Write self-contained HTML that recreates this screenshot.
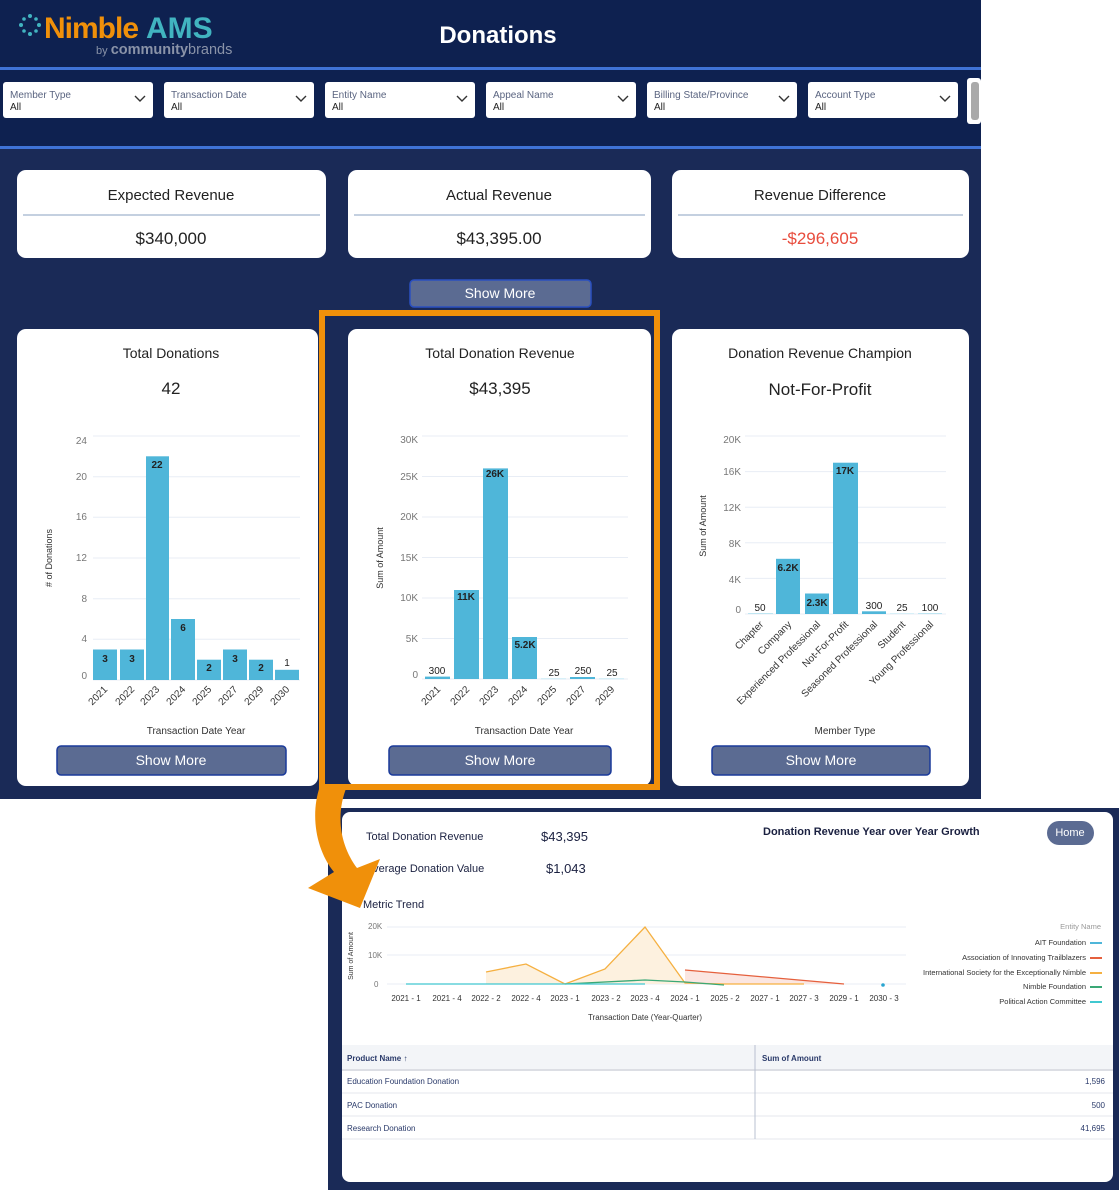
<!DOCTYPE html>
<html><head><meta charset="utf-8"><style>
html,body{margin:0;padding:0;background:#fff}
svg{display:block}
text{font-family:"Liberation Sans",sans-serif}
</style></head><body>
<svg width="1119" height="1190" viewBox="0 0 1119 1190" xmlns="http://www.w3.org/2000/svg">
<rect width="1119" height="1190" fill="#fff"/>
<!-- top dashboard -->
<rect x="0" y="0" width="981" height="799" fill="#1a2a57"/>
<rect x="0" y="0" width="981" height="148" fill="#0e2150"/>
<rect x="0" y="67" width="981" height="3" fill="#3f73d6"/>
<rect x="0" y="146" width="981" height="3" fill="#3f73d6"/>
<g fill="#41b4c0"><circle cx="30" cy="16" r="2"/><circle cx="30" cy="34" r="2"/><circle cx="21" cy="25" r="2"/><circle cx="39" cy="25" r="2"/><circle cx="24" cy="19" r="1.8"/><circle cx="36" cy="19" r="1.8"/><circle cx="24" cy="31" r="1.8"/><circle cx="36" cy="31" r="1.8"/></g>
<text x="44" y="38" font-size="30" font-weight="bold" fill="#f0900a" letter-spacing="-1">Nimble</text>
<text x="146" y="38" font-size="30" font-weight="bold" fill="#41b4c0">AMS</text>
<text x="96" y="54" font-size="11" fill="#8a93a8">by <tspan font-weight="bold" font-size="14.5">community</tspan><tspan font-size="14.5">brands</tspan></text>
<text x="498" y="43" font-size="24" font-weight="bold" fill="#fff" text-anchor="middle">Donations</text>
<!-- filters -->
<g font-size="10">
<g transform="translate(3,82)"><rect width="150" height="36" rx="3" fill="#fff"/><text x="7" y="16" fill="#5a6480">Member Type</text><text x="7" y="28" fill="#222">All</text><path d="M132 14l5 5 5-5" stroke="#333" fill="none" stroke-width="1.4"/></g>
<g transform="translate(164,82)"><rect width="150" height="36" rx="3" fill="#fff"/><text x="7" y="16" fill="#5a6480">Transaction Date</text><text x="7" y="28" fill="#222">All</text><path d="M132 14l5 5 5-5" stroke="#333" fill="none" stroke-width="1.4"/></g>
<g transform="translate(325,82)"><rect width="150" height="36" rx="3" fill="#fff"/><text x="7" y="16" fill="#5a6480">Entity Name</text><text x="7" y="28" fill="#222">All</text><path d="M132 14l5 5 5-5" stroke="#333" fill="none" stroke-width="1.4"/></g>
<g transform="translate(486,82)"><rect width="150" height="36" rx="3" fill="#fff"/><text x="7" y="16" fill="#5a6480">Appeal Name</text><text x="7" y="28" fill="#222">All</text><path d="M132 14l5 5 5-5" stroke="#333" fill="none" stroke-width="1.4"/></g>
<g transform="translate(647,82)"><rect width="150" height="36" rx="3" fill="#fff"/><text x="7" y="16" fill="#5a6480">Billing State/Province</text><text x="7" y="28" fill="#222">All</text><path d="M132 14l5 5 5-5" stroke="#333" fill="none" stroke-width="1.4"/></g>
<g transform="translate(808,82)"><rect width="150" height="36" rx="3" fill="#fff"/><text x="7" y="16" fill="#5a6480">Account Type</text><text x="7" y="28" fill="#222">All</text><path d="M132 14l5 5 5-5" stroke="#333" fill="none" stroke-width="1.4"/></g>
<rect x="967" y="78" width="14" height="46" rx="3" fill="#fff"/><rect x="971" y="82" width="8" height="38" rx="3" fill="#aaa"/>
</g>
<!-- KPI cards -->
<g font-size="15" fill="#222" text-anchor="middle">
<rect x="17" y="170" width="309" height="88" rx="9" fill="#fff"/><text x="171" y="200">Expected Revenue</text><line x1="23" y1="215" x2="320" y2="215" stroke="#8aa0c0"/><text x="171" y="244" font-size="17">$340,000</text>
<rect x="348" y="170" width="303" height="88" rx="9" fill="#fff"/><text x="499" y="200">Actual Revenue</text><line x1="354" y1="215" x2="645" y2="215" stroke="#8aa0c0"/><text x="499" y="244" font-size="17">$43,395.00</text>
<rect x="672" y="170" width="297" height="88" rx="9" fill="#fff"/><text x="820" y="200">Revenue Difference</text><line x1="678" y1="215" x2="963" y2="215" stroke="#8aa0c0"/><text x="820" y="244" font-size="17" fill="#e84c3d">-$296,605</text>
</g>
<rect x="410" y="280" width="181" height="27" rx="4" fill="#5b6b92" stroke="#2a50c0" stroke-width="1.5"/>
<text x="500" y="298" font-size="14" fill="#fff" text-anchor="middle">Show More</text>
<!-- chart cards -->
<rect x="17" y="329" width="301" height="457" rx="9" fill="#fff"/>
<rect x="348" y="329" width="303" height="457" rx="9" fill="#fff"/>
<rect x="672" y="329" width="297" height="457" rx="9" fill="#fff"/>
<g text-anchor="middle" fill="#222">
<text x="171" y="358" font-size="14">Total Donations</text><text x="171" y="394" font-size="17">42</text>
<text x="500" y="358" font-size="14">Total Donation Revenue</text><text x="500" y="394" font-size="17">$43,395</text>
<text x="820" y="358" font-size="14">Donation Revenue Champion</text><text x="820" y="395" font-size="17">Not-For-Profit</text>
</g>
<!-- chart 1 -->
<g font-size="10" fill="#777" text-anchor="end">
<g stroke="#e8edf5"><line x1="93" x2="300" y1="680" y2="680"/><line x1="93" x2="300" y1="639.3" y2="639.3"/><line x1="93" x2="300" y1="598.7" y2="598.7"/><line x1="93" x2="300" y1="558" y2="558"/><line x1="93" x2="300" y1="517.3" y2="517.3"/><line x1="93" x2="300" y1="476.7" y2="476.7"/><line x1="93" x2="300" y1="436" y2="436"/></g>
<text x="87" y="679">0</text><text x="87" y="642">4</text><text x="87" y="602">8</text><text x="87" y="561">12</text><text x="87" y="520">16</text><text x="87" y="480">20</text><text x="87" y="444">24</text>
</g>
<g fill="#4fb6d9">
<rect x="93" y="649.5" width="24" height="30.5"/><rect x="120" y="649.5" width="24" height="30.5"/><rect x="146" y="456.3" width="23" height="223.7"/><rect x="171" y="619" width="24" height="61"/><rect x="197" y="659.7" width="24" height="20.3"/><rect x="223" y="649.5" width="24" height="30.5"/><rect x="249" y="659.7" width="24" height="20.3"/><rect x="275" y="669.8" width="24" height="10.2"/>
</g>
<g font-size="10" fill="#222" text-anchor="middle" font-weight="bold">
<text x="105" y="662">3</text><text x="132" y="662">3</text><text x="157" y="468">22</text><text x="183" y="631">6</text><text x="209" y="671">2</text><text x="235" y="662">3</text><text x="261" y="671">2</text><text x="287" y="666" font-weight="normal">1</text>
</g>
<g font-size="10" fill="#333" text-anchor="end">
<text transform="translate(108,690) rotate(-45)">2021</text><text transform="translate(135,690) rotate(-45)">2022</text><text transform="translate(160,690) rotate(-45)">2023</text><text transform="translate(186,690) rotate(-45)">2024</text><text transform="translate(212,690) rotate(-45)">2025</text><text transform="translate(238,690) rotate(-45)">2027</text><text transform="translate(264,690) rotate(-45)">2029</text><text transform="translate(290,690) rotate(-45)">2030</text>
</g>
<text x="196" y="734" font-size="10" fill="#333" text-anchor="middle">Transaction Date Year</text>
<text transform="translate(52,558) rotate(-90)" font-size="9" fill="#333" text-anchor="middle"># of Donations</text>
<!-- chart 2 -->
<g font-size="10" fill="#777" text-anchor="end">
<g stroke="#e8edf5"><line x1="422" x2="628" y1="679" y2="679"/><line x1="422" x2="628" y1="638.5" y2="638.5"/><line x1="422" x2="628" y1="598" y2="598"/><line x1="422" x2="628" y1="557.5" y2="557.5"/><line x1="422" x2="628" y1="517" y2="517"/><line x1="422" x2="628" y1="476.5" y2="476.5"/><line x1="422" x2="628" y1="436" y2="436"/></g>
<text x="418" y="678">0</text><text x="418" y="642">5K</text><text x="418" y="601">10K</text><text x="418" y="561">15K</text><text x="418" y="520">20K</text><text x="418" y="480">25K</text><text x="418" y="443">30K</text>
</g>
<g fill="#4fb6d9">
<rect x="425" y="676.6" width="25" height="2.4"/><rect x="454" y="590" width="25" height="89"/><rect x="483" y="468.4" width="25" height="210.6"/><rect x="512" y="637" width="25" height="42"/><rect x="541" y="678.4" width="25" height="0.8" fill="#bfe6f2"/><rect x="570" y="677" width="25" height="2"/><rect x="599" y="678.4" width="25" height="0.8" fill="#bfe6f2"/>
</g>
<g font-size="10" fill="#222" text-anchor="middle">
<text x="437" y="674">300</text><text x="466" y="600" font-weight="bold">11K</text><text x="495" y="477" font-weight="bold">26K</text><text x="525" y="648" font-weight="bold">5.2K</text><text x="554" y="676">25</text><text x="583" y="674">250</text><text x="612" y="676">25</text>
</g>
<g font-size="10" fill="#333" text-anchor="end">
<text transform="translate(441,690) rotate(-45)">2021</text><text transform="translate(470,690) rotate(-45)">2022</text><text transform="translate(499,690) rotate(-45)">2023</text><text transform="translate(528,690) rotate(-45)">2024</text><text transform="translate(557,690) rotate(-45)">2025</text><text transform="translate(586,690) rotate(-45)">2027</text><text transform="translate(615,690) rotate(-45)">2029</text>
</g>
<text x="524" y="734" font-size="10" fill="#333" text-anchor="middle">Transaction Date Year</text>
<text transform="translate(383,558) rotate(-90)" font-size="9" fill="#333" text-anchor="middle">Sum of Amount</text>
<!-- chart 3 -->
<g font-size="10" fill="#777" text-anchor="end">
<g stroke="#e8edf5"><line x1="745" x2="946" y1="614" y2="614"/><line x1="745" x2="946" y1="578.4" y2="578.4"/><line x1="745" x2="946" y1="542.8" y2="542.8"/><line x1="745" x2="946" y1="507.2" y2="507.2"/><line x1="745" x2="946" y1="471.6" y2="471.6"/><line x1="745" x2="946" y1="436" y2="436"/></g>
<text x="741" y="613">0</text><text x="741" y="583">4K</text><text x="741" y="547">8K</text><text x="741" y="511">12K</text><text x="741" y="475">16K</text><text x="741" y="443">20K</text>
</g>
<g fill="#4fb6d9">
<rect x="748" y="613" width="25" height="1" fill="#bfe6f2"/><rect x="776" y="558.8" width="24" height="55.2"/><rect x="805" y="593.5" width="24" height="20.5"/><rect x="833" y="462.7" width="25" height="151.3"/><rect x="862" y="611.3" width="24" height="2.7"/><rect x="890" y="613.4" width="24" height="0.6" fill="#bfe6f2"/><rect x="918" y="613" width="24" height="1" fill="#bfe6f2"/>
</g>
<g font-size="10" fill="#222" text-anchor="middle">
<text x="760" y="611">50</text><text x="788" y="571" font-weight="bold">6.2K</text><text x="817" y="606" font-weight="bold">2.3K</text><text x="845" y="474" font-weight="bold">17K</text><text x="874" y="609">300</text><text x="902" y="611">25</text><text x="930" y="611">100</text>
</g>
<g font-size="10" fill="#333" text-anchor="end">
<text transform="translate(764,625) rotate(-45)">Chapter</text><text transform="translate(792,625) rotate(-45)">Company</text><text transform="translate(821,625) rotate(-45)">Experienced Professional</text><text transform="translate(849,625) rotate(-45)">Not-For-Profit</text><text transform="translate(878,625) rotate(-45)">Seasoned Professional</text><text transform="translate(906,625) rotate(-45)">Student</text><text transform="translate(934,625) rotate(-45)">Young Professional</text>
</g>
<text x="845" y="734" font-size="10" fill="#333" text-anchor="middle">Member Type</text>
<text transform="translate(706,526) rotate(-90)" font-size="9" fill="#333" text-anchor="middle">Sum of Amount</text>
<!-- show more buttons -->
<g font-size="14" fill="#fff" text-anchor="middle">
<rect x="57" y="746" width="229" height="29" rx="4" fill="#5b6b92" stroke="#1a3a9a" stroke-width="1.5"/><text x="171" y="765">Show More</text>
<rect x="389" y="746" width="222" height="29" rx="4" fill="#5b6b92" stroke="#1a3a9a" stroke-width="1.5"/><text x="500" y="765">Show More</text>
<rect x="712" y="746" width="218" height="29" rx="4" fill="#5b6b92" stroke="#1a3a9a" stroke-width="1.5"/><text x="821" y="765">Show More</text>
</g>
<!-- orange highlight -->
<rect x="322" y="313" width="335" height="474" fill="none" stroke="#f0900a" stroke-width="6"/>
<!-- bottom panel -->
<rect x="328" y="808" width="791" height="382" fill="#1a2a57"/>
<rect x="342" y="812" width="771" height="370" rx="8" fill="#fff"/>
<g font-size="11" fill="#1a2040">
<text x="366" y="840">Total Donation Revenue</text><text x="541" y="841" font-size="13">$43,395</text>
<text x="366" y="872">Average Donation Value</text><text x="546" y="873" font-size="13">$1,043</text>
<text x="363" y="908">Metric Trend</text>
<text x="763" y="835" font-weight="bold">Donation Revenue Year over Year Growth</text>
</g>
<rect x="1047" y="821" width="47" height="24" rx="12" fill="#5b6b92"/>
<text x="1070" y="836" font-size="11" fill="#fff" text-anchor="middle">Home</text>
<!-- orange arrow -->
<path d="M320 786 C 310 815, 316 850, 334 872 L 308 888 L 360 908 L 380 859 L 357 868 C 342 848, 334 818, 347 786 Z" fill="#f0900a"/>
<!-- line chart -->
<g stroke="#e8edf5"><line x1="387" x2="906" y1="927" y2="927"/><line x1="387" x2="906" y1="955" y2="955"/><line x1="387" x2="906" y1="984" y2="984"/></g>
<g font-size="8" fill="#777"><text x="368" y="929">20K</text><text x="368" y="958">10K</text><text x="374" y="987">0</text></g>
<text transform="translate(353,956) rotate(-90)" font-size="7" fill="#333" text-anchor="middle">Sum of Amount</text>
<path d="M486 972 L526 964 L565 984 L605 969 L645 927 L685 983 L724 984 L804 984 L804 984 L486 984Z" fill="#fdf1df"/>
<path d="M685 970 L844 984 L685 984Z" fill="#fbe6e1"/>
<polyline points="486,972 526,964 565,984 605,969 645,927 685,983 724,984 804,984" fill="none" stroke="#f5b041" stroke-width="1.3"/>
<polyline points="685,970 844,984" fill="none" stroke="#e5603d" stroke-width="1.3"/>
<polyline points="565,984 645,980 685,982 724,985" fill="none" stroke="#3aa876" stroke-width="1.3"/>
<polyline points="406,984 645,984" fill="none" stroke="#40c8d0" stroke-width="1.3"/>
<circle cx="883" cy="985" r="1.8" fill="#2aa5d0"/>
<g font-size="8" fill="#333" text-anchor="middle">
<text x="406" y="1001">2021 - 1</text><text x="447" y="1001">2021 - 4</text><text x="486" y="1001">2022 - 2</text><text x="526" y="1001">2022 - 4</text><text x="565" y="1001">2023 - 1</text><text x="606" y="1001">2023 - 2</text><text x="645" y="1001">2023 - 4</text><text x="685" y="1001">2024 - 1</text><text x="725" y="1001">2025 - 2</text><text x="765" y="1001">2027 - 1</text><text x="804" y="1001">2027 - 3</text><text x="844" y="1001">2029 - 1</text><text x="884" y="1001">2030 - 3</text>
<text x="645" y="1020">Transaction Date (Year-Quarter)</text>
</g>
<g font-size="7.5" fill="#333" text-anchor="end">
<text x="1101" y="929" fill="#999">Entity Name</text>
<text x="1086" y="945">AIT Foundation</text><text x="1086" y="960">Association of Innovating Trailblazers</text><text x="1086" y="975">International Society for the Exceptionally Nimble</text><text x="1086" y="989">Nimble Foundation</text><text x="1086" y="1004">Political Action Committee</text>
</g>
<g stroke-width="2"><line x1="1090" x2="1102" y1="943" y2="943" stroke="#4fb6d9"/><line x1="1090" x2="1102" y1="958" y2="958" stroke="#e5603d"/><line x1="1090" x2="1102" y1="973" y2="973" stroke="#f5b041"/><line x1="1090" x2="1102" y1="987" y2="987" stroke="#3aa876"/><line x1="1090" x2="1102" y1="1002" y2="1002" stroke="#40c8d0"/></g>
<!-- table -->
<rect x="342" y="1045" width="771" height="24" fill="#f3f5f8"/>
<line x1="342" x2="1113" y1="1070" y2="1070" stroke="#d0d4dc" stroke-width="1.5"/>
<line x1="342" x2="1113" y1="1093" y2="1093" stroke="#e4e7ec"/>
<line x1="342" x2="1113" y1="1116" y2="1116" stroke="#e4e7ec"/>
<line x1="342" x2="1113" y1="1139" y2="1139" stroke="#e4e7ec"/>
<line x1="755" x2="755" y1="1045" y2="1139" stroke="#b8c0d0"/>
<g font-size="8" fill="#2a3a6a">
<text x="347" y="1061" font-weight="bold">Product Name  ↑</text><text x="762" y="1061" font-weight="bold">Sum of Amount</text>
<text x="347" y="1084">Education Foundation Donation</text><text x="347" y="1108">PAC Donation</text><text x="347" y="1131">Research Donation</text>
<g text-anchor="end"><text x="1105" y="1084">1,596</text><text x="1105" y="1108">500</text><text x="1105" y="1131">41,695</text></g>
</g>
</svg>
</body></html>
